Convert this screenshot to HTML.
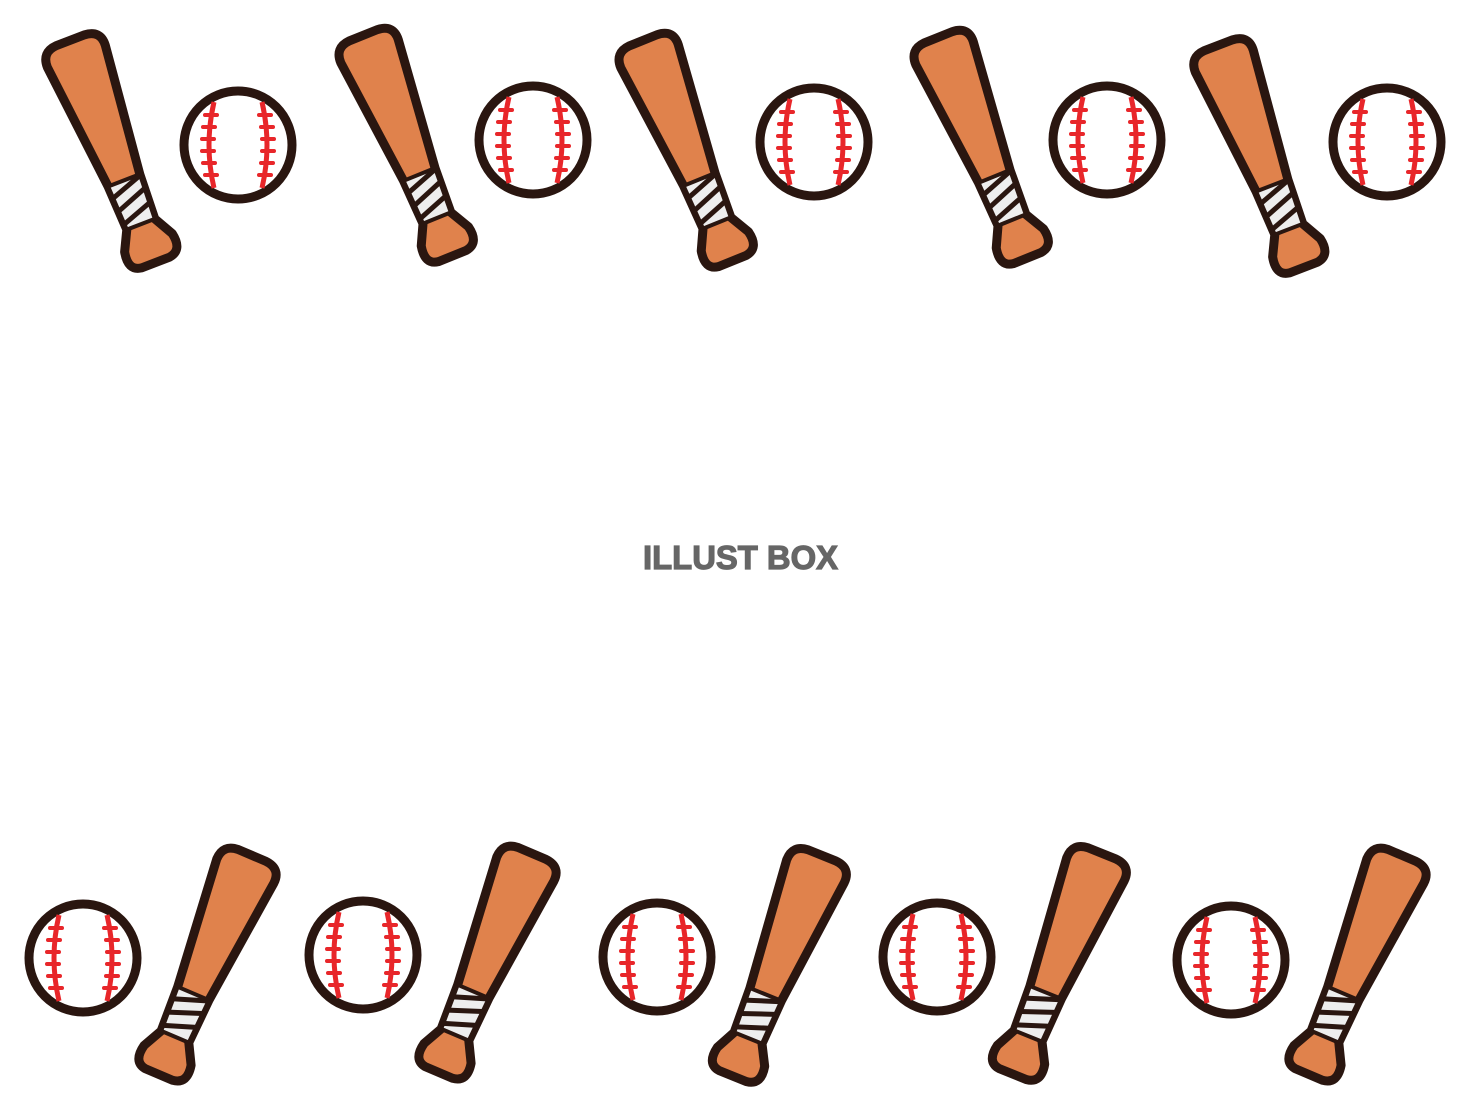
<!DOCTYPE html>
<html><head><meta charset="utf-8"><style>html,body{margin:0;padding:0;background:#fff}svg{display:block}</style></head>
<body>
<svg width="1480" height="1110" viewBox="0 0 1480 1110" xmlns="http://www.w3.org/2000/svg">
<defs>
<g id="bat">
  <path d="M-31,12 Q-31,-4 -15,-5 L15,-5 Q32,-4 31,12 L17,145 L15,192 L26,212 Q30,231 15,233 L-15,233 Q-29,231 -25,212 L-15,192 L-17,145 Z" fill="#e0824c" stroke="#2a1610" stroke-width="9" stroke-linejoin="round"/>
  <path d="M-17,145 L17,145 L15,192 L-15,192 Z" fill="#eeeeee" stroke="#2a1610" stroke-width="4"/>
  <g stroke="#2a1610" stroke-width="5">
    <line x1="-17" y1="158" x2="17" y2="146"/>
    <line x1="-16" y1="172" x2="16" y2="160"/>
    <line x1="-15" y1="186" x2="16" y2="175"/>
  </g>
</g>
<g id="ball">
  <circle cx="0" cy="0" r="54" fill="#fff" stroke="#2a1610" stroke-width="9"/>
  <path d="M-24,-43 Q-34,0 -24,43" fill="none" stroke="#e8262a" stroke-width="5"/>
  <path d="M24,-43 Q34,0 24,43" fill="none" stroke="#e8262a" stroke-width="5"/>
  <g stroke="#e8262a" stroke-width="4" stroke-linecap="round">
    <line x1="-33" y1="-30" x2="-21" y2="-30"/><line x1="-35" y1="-18" x2="-23" y2="-18"/>
    <line x1="-36" y1="-6" x2="-24" y2="-6"/><line x1="-36" y1="6" x2="-24" y2="6"/>
    <line x1="-35" y1="18" x2="-23" y2="18"/><line x1="-33" y1="30" x2="-21" y2="30"/>
    <line x1="33" y1="-30" x2="21" y2="-30"/><line x1="35" y1="-18" x2="23" y2="-18"/>
    <line x1="36" y1="-6" x2="24" y2="-6"/><line x1="36" y1="6" x2="24" y2="6"/>
    <line x1="35" y1="18" x2="23" y2="18"/><line x1="33" y1="30" x2="21" y2="30"/>
  </g>
</g>
</defs>
<use href="#bat" transform="translate(72,45) rotate(-21)"/>
<use href="#bat" transform="translate(365,40) rotate(-22)"/>
<use href="#bat" transform="translate(645,45) rotate(-22)"/>
<use href="#bat" transform="translate(940,42) rotate(-22)"/>
<use href="#bat" transform="translate(1220,50) rotate(-21)"/>
<use href="#ball" transform="translate(238,145)"/>
<use href="#ball" transform="translate(533,140)"/>
<use href="#ball" transform="translate(814,142)"/>
<use href="#ball" transform="translate(1107,140)"/>
<use href="#ball" transform="translate(1387,142)"/>
<use href="#ball" transform="translate(83,958)"/>
<use href="#ball" transform="translate(363,955)"/>
<use href="#ball" transform="translate(657,957)"/>
<use href="#ball" transform="translate(937,957)"/>
<use href="#ball" transform="translate(1231,960)"/>
<use href="#bat" transform="translate(250,860) rotate(23)"/>
<use href="#bat" transform="translate(530,858) rotate(23)"/>
<use href="#bat" transform="translate(820,860) rotate(22)"/>
<use href="#bat" transform="translate(1100,858) rotate(22)"/>
<use href="#bat" transform="translate(1400,860) rotate(23)"/>
<text x="643" y="569" font-family="Liberation Sans, sans-serif" font-weight="bold" font-size="33" fill="#666" stroke="#666" stroke-width="1.2" textLength="195" lengthAdjust="spacingAndGlyphs">ILLUST BOX</text>
</svg>
</body></html>
